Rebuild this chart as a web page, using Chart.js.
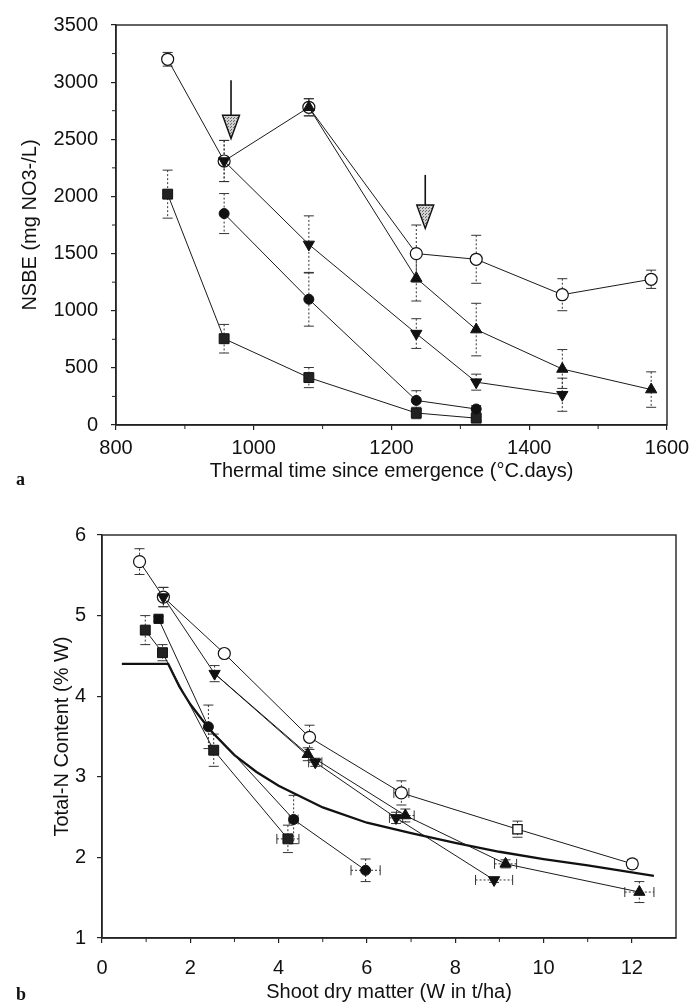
<!DOCTYPE html>
<html><head><meta charset="utf-8">
<script src="https://cdn.jsdelivr.net/npm/chart.js@4.4.1/dist/chart.umd.min.js"></script>
<style>
html,body{margin:0;padding:0;background:#fff;}
body{width:697px;height:1004px;position:relative;overflow:hidden;}
#ca{position:absolute;left:0;top:0;}
#cb{position:absolute;left:0;top:500px;}
.panel{position:absolute;font-family:"Liberation Serif","Times New Roman",serif;font-weight:bold;font-size:18px;color:#111;line-height:1;}
</style></head><body>
<canvas id="ca" width="697" height="500"></canvas>
<canvas id="cb" width="697" height="504"></canvas>
<div class="panel" style="left:16px;top:470px">a</div>
<div class="panel" style="left:16px;top:985px">b</div>
<script>
// ---------- Panel a : NSBE vs thermal time ----------
const thermalTime = [875, 957, 1080, 1236, 1323, 1448, 1577];
const nsbeOpenCircle      = [3200, 2310, 2780, 1500, 1450, 1140, 1275];
const nsbeOpenCircleErr   = [60, 180, 75, 250, 210, 140, 80];
const nsbeTriangleUp      = [null, null, 2780, 1285, 835, 490, 310];
const nsbeTriangleUpErr   = [null, null, 75, 200, 230, 170, 155];
const nsbeTriangleDown    = [null, 2310, 1580, 800, 375, 265, null];
const nsbeTriangleDownErr = [null, 180, 250, 130, 70, 145, null];
const nsbeCircle          = [null, 1850, 1100, 215, 140, null, null];
const nsbeCircleErr       = [null, 175, 235, 85, 30, null, null];
const nsbeSquare          = [2020, 755, 415, 105, 60, null, null];
const nsbeSquareErr       = [210, 125, 88, 50, 20, null, null];
const xTicksA = [800, 1000, 1200, 1400, 1600];
const xMinorA = [900, 1100, 1300, 1500];
const yTicksA = [0, 500, 1000, 1500, 2000, 2500, 3000, 3500];
const yMinorA = [250, 750, 1250, 1750, 2250, 2750, 3250];
// arrows (thermal time, NSBE of shaft top, head base, head tip)
const arrowTime = [967, 1249];
const arrowTop  = [3017, 2188];
const arrowBase = [2710, 1925];
const arrowTip  = [2506, 1720];

// ---------- Panel b : Total-N vs shoot dry matter ----------
const wOpen    = [0.85, 1.39, 2.77, 4.70, 6.78, 9.41, 12.01];
const nOpen    = [5.67, 5.23, 4.53, 3.49, 2.80, 2.35, 1.92];
const nOpenErr = [0.16, 0.12, 0.04, 0.15, 0.15, 0.10, 0.05];
const wOpenErr = [0, 0, 0, 0, 0.17, 0.10, 0.10];
const wTriDown    = [1.39, 2.55, 4.83, 6.66, 8.88];
const nTriDown    = [5.23, 4.28, 3.18, 2.49, 1.72];
const nTriDownErr = [0.12, 0.10, 0.05, 0.07, 0.03];
const wTriDownErr = [0, 0, 0.15, 0.15, 0.42];
const wTriUp    = [2.55, 4.66, 6.87, 9.14, 12.17];
const nTriUp    = [4.28, 3.28, 2.52, 1.92, 1.57];
const nTriUpErr = [0, 0.08, 0.08, 0.05, 0.13];
const wTriUpErr = [0, 0, 0.2, 0.25, 0.33];
const wSquare    = [0.98, 1.37, 2.53, 4.21];
const nSquare    = [4.82, 4.54, 3.33, 2.23];
const nSquareErr = [0.18, 0.10, 0.20, 0.17];
const wSquareErr = [0, 0, 0, 0.25];
const wCircle    = [1.28, 2.41, 4.34, 5.97];
const nCircle    = [4.96, 3.62, 2.47, 1.84];
const nCircleErr = [0.03, 0.27, 0.30, 0.14];
const wCircleErr = [0, 0, 0.10, 0.33];
const wCritical = [0.45, 1.5, 1.75, 2.0, 2.25, 2.5, 3.0, 3.5, 4.0, 5.0, 6.0, 7.0, 8.0, 9.0, 10.0, 11.0, 12.5];
const nCritical = [4.40, 4.40, 4.12, 3.90, 3.72, 3.55, 3.27, 3.06, 2.89, 2.62, 2.43, 2.30, 2.18, 2.07, 1.98, 1.90, 1.77];
const xTicksB = [0, 2, 4, 6, 8, 10, 12];
const xMinorB = [1, 3, 5, 7, 9, 11];
const yTicksB = [1, 2, 3, 4, 5, 6];

// ---------- helpers ----------
const FONT = '"Liberation Sans", Arial, sans-serif';
const INK = '#111';
function seriesA(vals, errs) {
  return thermalTime.map((t, i) => vals[i] == null ? null : {x: t, y: vals[i], ey: errs[i], ex: 0}).filter(Boolean);
}
function seriesB(ws, ns, nErr, wErr) {
  return ws.map((w, i) => ({x: w, y: ns[i], ey: nErr ? nErr[i] : 0, ex: wErr ? wErr[i] : 0}));
}

const errorBars = {
  id: 'errorBars',
  beforeDatasetsDraw(chart) {
    const ctx = chart.ctx, xs = chart.scales.x, ys = chart.scales.y;
    ctx.save();
    ctx.strokeStyle = '#333';
    ctx.lineWidth = 1;
    chart.data.datasets.forEach(ds => {
      ds.data.forEach(p => {
        const px = xs.getPixelForValue(p.x), py = ys.getPixelForValue(p.y);
        if (p.ey) {
          const y1 = ys.getPixelForValue(p.y + p.ey), y2 = ys.getPixelForValue(p.y - p.ey);
          ctx.setLineDash([2, 2]);
          ctx.beginPath(); ctx.moveTo(px, y1); ctx.lineTo(px, y2); ctx.stroke();
          ctx.setLineDash([]);
          ctx.beginPath();
          ctx.moveTo(px - 5, y1); ctx.lineTo(px + 5, y1);
          ctx.moveTo(px - 5, y2); ctx.lineTo(px + 5, y2);
          ctx.stroke();
        }
        if (p.ex) {
          const x1 = xs.getPixelForValue(p.x - p.ex), x2 = xs.getPixelForValue(p.x + p.ex);
          ctx.setLineDash([2, 2]);
          ctx.beginPath(); ctx.moveTo(x1, py); ctx.lineTo(x2, py); ctx.stroke();
          ctx.setLineDash([]);
          ctx.beginPath();
          ctx.moveTo(x1, py - 5); ctx.lineTo(x1, py + 5);
          ctx.moveTo(x2, py - 5); ctx.lineTo(x2, py + 5);
          ctx.stroke();
        }
      });
    });
    ctx.restore();
  }
};

const frameAndMinor = {
  id: 'frameAndMinor',
  afterDraw(chart, args, opts) {
    const ctx = chart.ctx, a = chart.chartArea, xs = chart.scales.x, ys = chart.scales.y;
    ctx.save();
    ctx.strokeStyle = '#222';
    ctx.lineWidth = 1.4;
    ctx.strokeRect(a.left, a.top, a.right - a.left, a.bottom - a.top);
    ctx.lineWidth = 1;
    ctx.beginPath();
    (opts.xMinor || []).forEach(v => {
      const x = xs.getPixelForValue(v);
      ctx.moveTo(x, a.bottom); ctx.lineTo(x, a.bottom + 4);
    });
    (opts.yMinor || []).forEach(v => {
      const y = ys.getPixelForValue(v);
      ctx.moveTo(a.left, y); ctx.lineTo(a.left - 4, y);
    });
    ctx.stroke();
    ctx.restore();
  }
};

const arrowsPlugin = {
  id: 'arrows',
  afterDatasetsDraw(chart) {
    const ctx = chart.ctx, xs = chart.scales.x, ys = chart.scales.y;
    const pc = document.createElement('canvas');
    pc.width = 3; pc.height = 3;
    const pctx = pc.getContext('2d');
    pctx.fillStyle = '#d0d0d0'; pctx.fillRect(0, 0, 3, 3);
    pctx.fillStyle = '#666'; pctx.fillRect(0, 0, 1, 1); pctx.fillRect(2, 1, 1, 1);
    const pat = ctx.createPattern(pc, 'repeat');
    ctx.save();
    arrowTime.forEach((t, i) => {
      const x = xs.getPixelForValue(t);
      const yT = ys.getPixelForValue(arrowTop[i]);
      const yB = ys.getPixelForValue(arrowBase[i]);
      const yP = ys.getPixelForValue(arrowTip[i]);
      ctx.strokeStyle = INK; ctx.lineWidth = 1.6;
      ctx.beginPath(); ctx.moveTo(x, yT); ctx.lineTo(x, yB); ctx.stroke();
      ctx.beginPath();
      ctx.moveTo(x - 8.5, yB); ctx.lineTo(x + 8.5, yB); ctx.lineTo(x, yP); ctx.closePath();
      ctx.fillStyle = pat; ctx.fill();
      ctx.lineWidth = 1.4; ctx.stroke();
    });
    ctx.restore();
  }
};

function axis(opts) {
  return {
    type: 'linear',
    min: opts.min, max: opts.max,
    afterBuildTicks: s => { s.ticks = opts.ticks.map(v => ({value: v})); },
    afterFit: s => { if (opts.width != null) s.width = opts.width; if (opts.height != null) s.height = opts.height; },
    ticks: {font: {family: FONT, size: 20}, color: INK, padding: opts.tickPad, includeBounds: false,
            callback: v => String(v)},
    grid: {drawOnChartArea: false, drawTicks: true, tickLength: 5, color: '#222', lineWidth: 1.2},
    border: {display: true, color: '#222', width: 1.4},
    title: {display: true, text: opts.title, color: INK, font: {family: FONT, size: 20},
            padding: opts.titlePad}
  };
}

const lineDefaults = {borderColor: '#1a1a1a', borderWidth: 1, showLine: true, tension: 0, fill: false};

// ---------- Chart a ----------
new Chart(document.getElementById('ca'), {
  type: 'scatter',
  data: {
    datasets: [
      Object.assign({}, lineDefaults, {label: 'tri-down', data: seriesA(nsbeTriangleDown, nsbeTriangleDownErr),
        pointStyle: 'triangle', rotation: 180, pointRadius: 6.5, backgroundColor: INK, pointBorderColor: INK}),
      Object.assign({}, lineDefaults, {label: 'tri-up', data: seriesA(nsbeTriangleUp, nsbeTriangleUpErr),
        pointStyle: 'triangle', pointRadius: 6.5, backgroundColor: INK, pointBorderColor: INK}),
      Object.assign({}, lineDefaults, {label: 'circle', data: seriesA(nsbeCircle, nsbeCircleErr),
        pointStyle: 'circle', pointRadius: 5, backgroundColor: INK, pointBorderColor: INK}),
      Object.assign({}, lineDefaults, {label: 'square', data: seriesA(nsbeSquare, nsbeSquareErr),
        pointStyle: 'rect', pointRadius: 7, backgroundColor: '#222', pointBorderColor: INK}),
      Object.assign({}, lineDefaults, {label: 'open', data: seriesA(nsbeOpenCircle, nsbeOpenCircleErr),
        pointStyle: 'circle', pointRadius: 6, backgroundColor: '#fff', pointBorderColor: INK, pointBorderWidth: 1.2})
    ]
  },
  options: {
    responsive: false, animation: false,
    layout: {padding: {left: 0, right: 30, top: 14, bottom: 0}},
    plugins: {legend: {display: false}, tooltip: {enabled: false},
      frameAndMinor: {xMinor: xMinorA, yMinor: yMinorA}},
    scales: {
      x: axis({min: 800, max: 1600, ticks: xTicksA, height: 75, tickPad: 6,
               title: 'Thermal time since emergence (°C.days)', titlePad: {top: 0, bottom: 17}}),
      y: axis({min: 0, max: 3500, ticks: yTicksA, width: 116, tickPad: 13,
               title: 'NSBE (mg NO3-/L)', titlePad: {top: 18, bottom: 0}})
    }
  },
  plugins: [errorBars, frameAndMinor, arrowsPlugin]
});

// ---------- Chart b ----------
new Chart(document.getElementById('cb'), {
  type: 'scatter',
  data: {
    datasets: [
      Object.assign({}, lineDefaults, {label: 'tri-down', data: seriesB(wTriDown, nTriDown, nTriDownErr, wTriDownErr),
        pointStyle: 'triangle', rotation: 180, pointRadius: 6.5, backgroundColor: INK, pointBorderColor: INK}),
      Object.assign({}, lineDefaults, {label: 'tri-up', data: seriesB(wTriUp, nTriUp, nTriUpErr, wTriUpErr),
        pointStyle: 'triangle', pointRadius: [0, 6.5, 6.5, 6.5, 6.5], backgroundColor: INK, pointBorderColor: INK}),
      Object.assign({}, lineDefaults, {label: 'circle', data: seriesB(wCircle, nCircle, nCircleErr, wCircleErr),
        pointStyle: ['rect', 'circle', 'circle', 'circle'], pointRadius: [6.5, 5, 5, 5], backgroundColor: INK, pointBorderColor: INK}),
      Object.assign({}, lineDefaults, {label: 'square', data: seriesB(wSquare, nSquare, nSquareErr, wSquareErr),
        pointStyle: 'rect', pointRadius: 7, backgroundColor: '#222', pointBorderColor: INK}),
      Object.assign({}, lineDefaults, {label: 'open', data: seriesB(wOpen, nOpen, nOpenErr, wOpenErr),
        pointStyle: ['circle', 'circle', 'circle', 'circle', 'circle', 'rect', 'circle'],
        pointRadius: [6, 6, 6, 6, 6, 6.5, 6], backgroundColor: '#fff', pointBorderColor: INK, pointBorderWidth: 1.2}),
      {label: 'critical', data: seriesB(wCritical, nCritical), showLine: true, pointRadius: 0,
        borderColor: '#111', borderWidth: 2.3, tension: 0, fill: false}
    ]
  },
  options: {
    responsive: false, animation: false,
    layout: {padding: {left: 0, right: 21, top: 35, bottom: 0}},
    plugins: {legend: {display: false}, tooltip: {enabled: false},
      frameAndMinor: {xMinor: xMinorB, yMinor: []}},
    scales: {
      x: axis({min: 0, max: 13, ticks: xTicksB, height: 66, tickPad: 13,
               title: 'Shoot dry matter (W in t/ha)', titlePad: {top: 0, bottom: 0}}),
      y: axis({min: 1, max: 6, ticks: yTicksB, width: 102, tickPad: 11,
               title: 'Total-N Content (% W)', titlePad: {top: 50, bottom: 0}})
    }
  },
  plugins: [errorBars, frameAndMinor]
});
</script>
</body></html>
